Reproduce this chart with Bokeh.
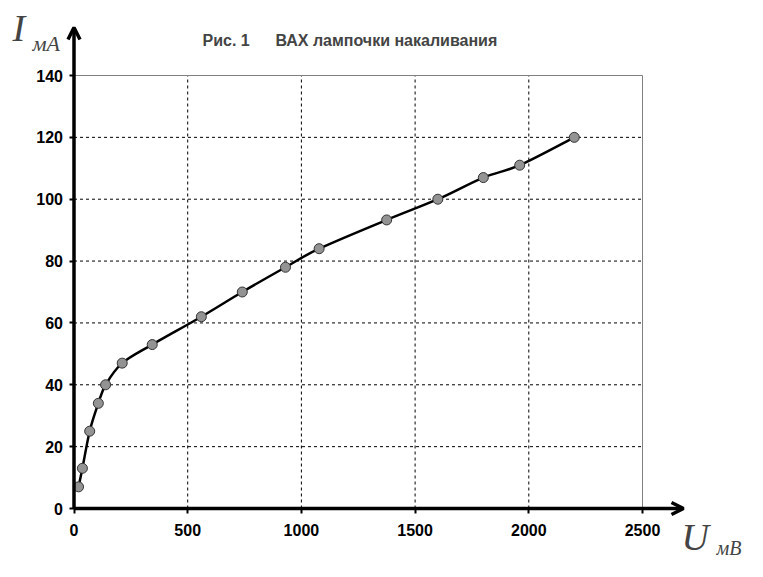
from bokeh.plotting import figure
from bokeh.models import Range1d, FixedTicker, Label, Arrow, OpenHead, LinearAxis
from bokeh.embed import file_html
from bokeh.resources import INLINE

# Data (U in mV, I in mA)
u_mv = [20, 37, 69, 107, 139, 212, 344, 560, 740, 930, 1078, 1375, 1600, 1800, 1960, 2200]
i_ma = [7, 13, 25, 34, 40, 47, 53, 62, 70, 78, 84, 93.3, 100, 107, 111, 120]
x_ticks = [0, 500, 1000, 1500, 2000, 2500]
y_ticks = [0, 20, 40, 60, 80, 100, 120, 140]
title_left = "Рис. 1"
title_right = "ВАХ лампочки накаливания"

W, H = 747, 561
# pixel layout of the plotting box inside the figure
L, R, T, B = 73.5, 642.0, 75.0, 508.0
xmax, ymax = x_ticks[-1], y_ticks[-1]
sx = (R - L) / xmax
sy = (B - T) / ymax
x_range = Range1d(-L / sx, xmax + (W - R) / sx)
y_range = Range1d(-(H - B) / sy, ymax + T / sy)

p = figure(width=W, height=H, output_backend="svg", toolbar_location=None,
           x_range=x_range, y_range=y_range, x_axis_type=None, y_axis_type=None,
           min_border=0)
p.background_fill_color = "white"
p.border_fill_color = "white"
p.outline_line_color = None
p.xgrid.visible = False
p.ygrid.visible = False

xaxis = LinearAxis(fixed_location=0, ticker=FixedTicker(ticks=x_ticks))
yaxis = LinearAxis(fixed_location=0, ticker=FixedTicker(ticks=y_ticks))
for ax in (xaxis, yaxis):
    ax.axis_line_color = None
    ax.major_tick_line_width = 2
    ax.major_tick_line_color = "black"
    ax.major_tick_out = 5
    ax.major_tick_in = 0
    ax.minor_tick_line_color = None
    ax.major_label_text_font = "Liberation Sans"
    ax.major_label_text_font_style = "bold"
    ax.major_label_text_font_size = "16px"
    ax.major_label_text_color = "black"
xaxis.major_label_standoff = 10
yaxis.major_label_standoff = 6
p.add_layout(xaxis, "below")
p.add_layout(yaxis, "left")

# dashed grid restricted to the plotting box
gx = x_ticks[1:-1]
gy = y_ticks[1:-1]
p.segment(x0=gx, y0=[0] * len(gx), x1=gx, y1=[ymax] * len(gx),
          line_color="black", line_width=1, line_dash="3 3")
p.segment(x0=[0] * len(gy), y0=gy, x1=[xmax] * len(gy), y1=gy,
          line_color="black", line_width=1, line_dash="3 3")

# gray box border (top and right)
p.segment(x0=[0, xmax], y0=[ymax, 0], x1=[xmax, xmax], y1=[ymax, ymax],
          line_color="#808080", line_width=1)

# Smoothed curve (Catmull-Rom -> cubic Bezier, control points from data)
n = len(u_mv)
x0s, y0s, x1s, y1s, cx0, cy0, cx1, cy1 = [], [], [], [], [], [], [], []
for k in range(n - 1):
    pxm = u_mv[k - 1] if k > 0 else u_mv[k]
    pym = i_ma[k - 1] if k > 0 else i_ma[k]
    pxp = u_mv[k + 2] if k + 2 < n else u_mv[k + 1]
    pyp = i_ma[k + 2] if k + 2 < n else i_ma[k + 1]
    x0s.append(u_mv[k]); y0s.append(i_ma[k])
    x1s.append(u_mv[k + 1]); y1s.append(i_ma[k + 1])
    cx0.append(u_mv[k] + (u_mv[k + 1] - pxm) / 6)
    cy0.append(i_ma[k] + (i_ma[k + 1] - pym) / 6)
    cx1.append(u_mv[k + 1] - (pxp - u_mv[k]) / 6)
    cy1.append(i_ma[k + 1] - (pyp - i_ma[k]) / 6)
p.bezier(x0=x0s, y0=y0s, x1=x1s, y1=y1s, cx0=cx0, cy0=cy0, cx1=cx1, cy1=cy1,
         line_color="black", line_width=2.5)
p.scatter(u_mv, i_ma, size=10, fill_color="#939393", line_color="#333333", line_width=1)

# Axis lines with arrows
x_arrow_end = xmax + (683 - R) / sx
y_arrow_end = ymax + (T - 27) / sy
p.add_layout(Arrow(x_start=0, y_start=0, x_end=x_arrow_end, y_end=0,
                   line_color="black", line_width=3.5,
                   end=OpenHead(size=12, line_width=3.5, line_color="black")))
p.add_layout(Arrow(x_start=0, y_start=0, x_end=0, y_end=y_arrow_end,
                   line_color="black", line_width=3.5,
                   end=OpenHead(size=12, line_width=3.5, line_color="black")))

def px_x(fx):
    return (fx - L) / sx

def px_y(fy):
    return (B - fy) / sy

def add_text(left, base, size, txt, font, style):
    # observed: rendered baseline sits about 0.37*size below the anchor
    p.add_layout(Label(x=px_x(left), y=px_y(base - 0.37 * size), text=txt,
                       text_font=font, text_font_style=style,
                       text_font_size=f"{size}px", text_baseline="alphabetic"))

# Axis names
add_text(12, 42, 38, "I", "Liberation Serif", "italic")
add_text(32, 51, 22, "мА", "Liberation Serif", "italic")
add_text(681, 551, 38, "U", "Liberation Serif", "italic")
add_text(716, 555, 20, "мВ", "Liberation Serif", "italic")

# Title
add_text(202, 46, 16, title_left, "Liberation Sans", "bold")
add_text(275, 46, 16, title_right, "Liberation Sans", "bold")

open("out.html", "w").write(file_html(p, INLINE))
